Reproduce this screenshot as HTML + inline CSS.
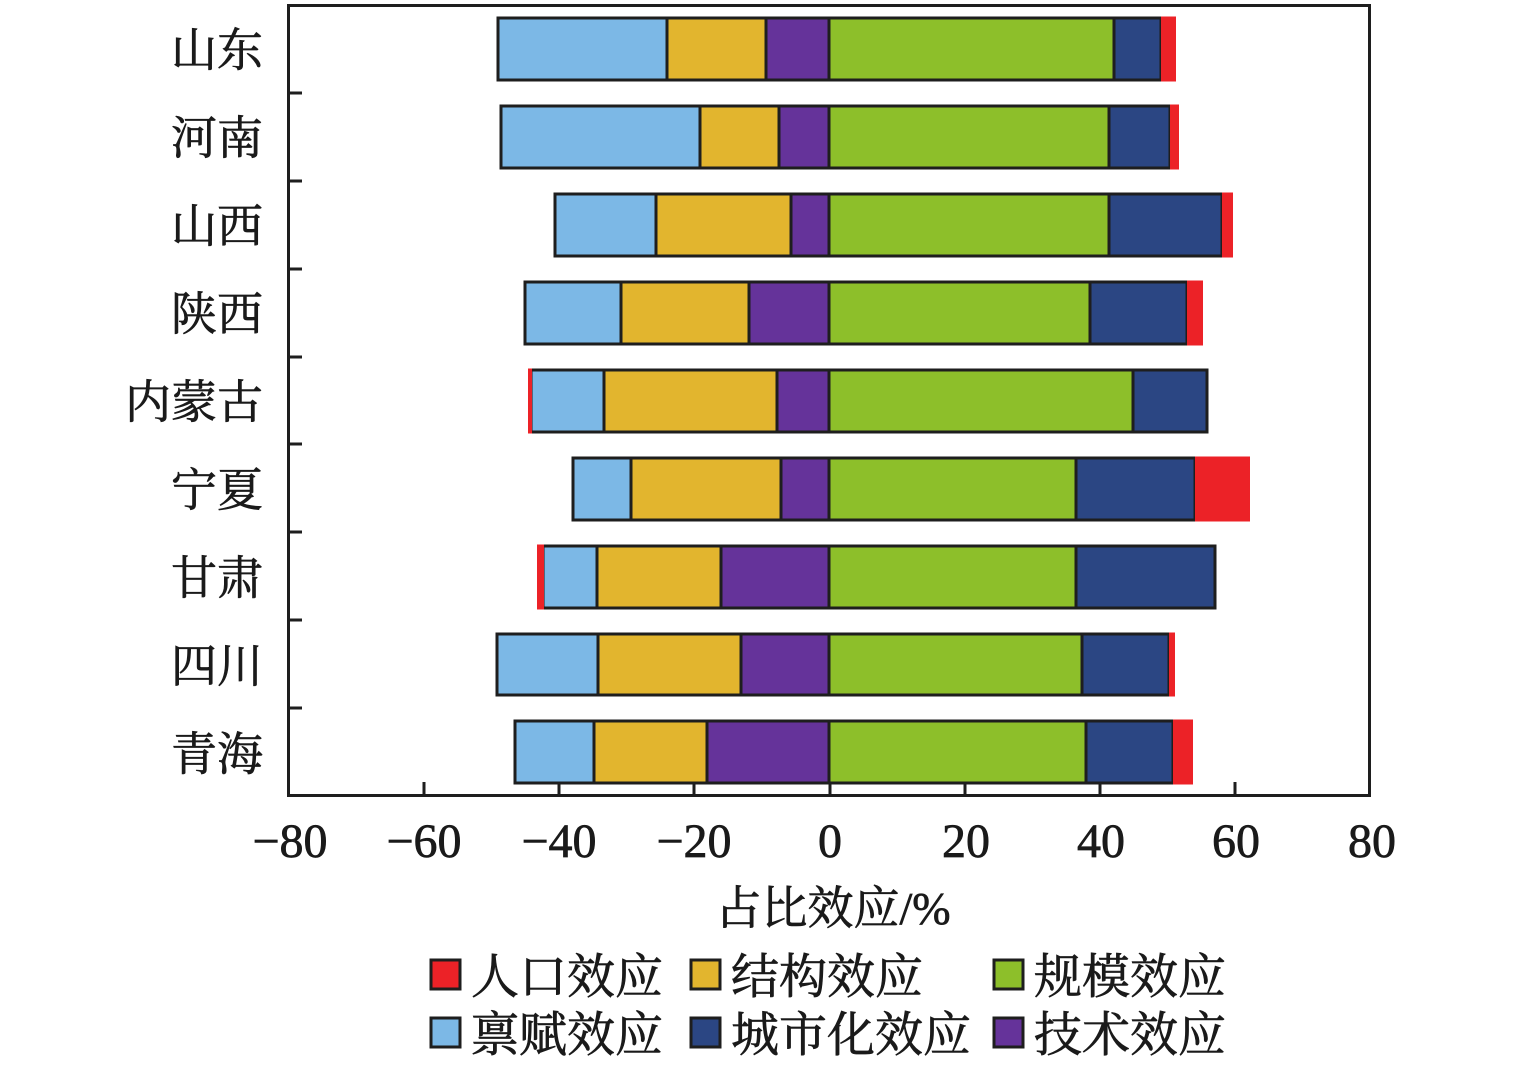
<!DOCTYPE html>
<html><head><meta charset="utf-8"><style>
html,body{margin:0;padding:0;background:#fff;}
svg text{font-family:"Liberation Serif","Noto Serif CJK SC",serif;fill:#1a1a1a;stroke:#1a1a1a;stroke-width:0.7;}
</style></head><body>
<svg width="1535" height="1061" viewBox="0 0 1535 1061" xmlns="http://www.w3.org/2000/svg">
<g stroke="#1e1e1e" stroke-width="3">
<rect x="498" y="18" width="169" height="62" fill="#7cb8e6"/><rect x="667" y="18" width="99" height="62" fill="#e2b52e"/><rect x="766" y="18" width="63" height="62" fill="#65339a"/><rect x="829" y="18" width="285" height="62" fill="#8dbf2a"/><rect x="1114" y="18" width="47" height="62" fill="#2b4683"/>
<rect x="501" y="106" width="199" height="62" fill="#7cb8e6"/><rect x="700" y="106" width="79" height="62" fill="#e2b52e"/><rect x="779" y="106" width="50" height="62" fill="#65339a"/><rect x="829" y="106" width="280" height="62" fill="#8dbf2a"/><rect x="1109" y="106" width="61" height="62" fill="#2b4683"/>
<rect x="555" y="194" width="101" height="62" fill="#7cb8e6"/><rect x="656" y="194" width="135" height="62" fill="#e2b52e"/><rect x="791" y="194" width="38" height="62" fill="#65339a"/><rect x="829" y="194" width="280" height="62" fill="#8dbf2a"/><rect x="1109" y="194" width="113" height="62" fill="#2b4683"/>
<rect x="525" y="282" width="96" height="62" fill="#7cb8e6"/><rect x="621" y="282" width="128" height="62" fill="#e2b52e"/><rect x="749" y="282" width="80" height="62" fill="#65339a"/><rect x="829" y="282" width="261" height="62" fill="#8dbf2a"/><rect x="1090" y="282" width="97" height="62" fill="#2b4683"/>
<rect x="531" y="370" width="73" height="62" fill="#7cb8e6"/><rect x="604" y="370" width="173" height="62" fill="#e2b52e"/><rect x="777" y="370" width="52" height="62" fill="#65339a"/><rect x="829" y="370" width="304" height="62" fill="#8dbf2a"/><rect x="1133" y="370" width="74" height="62" fill="#2b4683"/>
<rect x="573" y="458" width="58" height="62" fill="#7cb8e6"/><rect x="631" y="458" width="150" height="62" fill="#e2b52e"/><rect x="781" y="458" width="48" height="62" fill="#65339a"/><rect x="829" y="458" width="247" height="62" fill="#8dbf2a"/><rect x="1076" y="458" width="119" height="62" fill="#2b4683"/>
<rect x="543" y="546" width="54" height="62" fill="#7cb8e6"/><rect x="597" y="546" width="124" height="62" fill="#e2b52e"/><rect x="721" y="546" width="108" height="62" fill="#65339a"/><rect x="829" y="546" width="247" height="62" fill="#8dbf2a"/><rect x="1076" y="546" width="139" height="62" fill="#2b4683"/>
<rect x="497" y="634" width="101" height="61" fill="#7cb8e6"/><rect x="598" y="634" width="143" height="61" fill="#e2b52e"/><rect x="741" y="634" width="88" height="61" fill="#65339a"/><rect x="829" y="634" width="253" height="61" fill="#8dbf2a"/><rect x="1082" y="634" width="87" height="61" fill="#2b4683"/>
<rect x="515" y="721" width="79" height="62" fill="#7cb8e6"/><rect x="594" y="721" width="113" height="62" fill="#e2b52e"/><rect x="707" y="721" width="122" height="62" fill="#65339a"/><rect x="829" y="721" width="257" height="62" fill="#8dbf2a"/><rect x="1086" y="721" width="87" height="62" fill="#2b4683"/>
</g>
<g fill="#ec2227">
<rect x="1161" y="16.5" width="15" height="65"/>
<rect x="1170" y="104.5" width="9" height="65"/>
<rect x="1222" y="192.5" width="11" height="65"/>
<rect x="1187" y="280.5" width="16" height="65"/>
<rect x="528" y="368.5" width="4" height="65"/>
<rect x="1195" y="456.5" width="55" height="65"/>
<rect x="537" y="544.5" width="7" height="65"/>
<rect x="1169" y="632.5" width="6" height="64"/>
<rect x="1173" y="719.5" width="20" height="65"/>
</g>
<rect x="288.5" y="5.5" width="1081" height="790" fill="none" stroke="#1e1e1e" stroke-width="3"/>
<g stroke="#1e1e1e" stroke-width="3">
<line x1="288" y1="93" x2="302" y2="93"/><line x1="288" y1="181" x2="302" y2="181"/><line x1="288" y1="269" x2="302" y2="269"/><line x1="288" y1="357" x2="302" y2="357"/><line x1="288" y1="444" x2="302" y2="444"/><line x1="288" y1="532" x2="302" y2="532"/><line x1="288" y1="620" x2="302" y2="620"/><line x1="288" y1="708" x2="302" y2="708"/>
<line x1="424" y1="795" x2="424" y2="782"/><line x1="559" y1="795" x2="559" y2="782"/><line x1="694" y1="795" x2="694" y2="782"/><line x1="830" y1="795" x2="830" y2="782"/><line x1="965" y1="795" x2="965" y2="782"/><line x1="1100" y1="795" x2="1100" y2="782"/><line x1="1235" y1="795" x2="1235" y2="782"/>
</g>
<g font-size="46" text-anchor="end">
<text x="263" y="66">山东</text><text x="263" y="154">河南</text><text x="263" y="242">山西</text><text x="263" y="330">陕西</text><text x="263" y="418">内蒙古</text><text x="263" y="506">宁夏</text><text x="263" y="594">甘肃</text><text x="263" y="682">四川</text><text x="263" y="770">青海</text>
</g>
<g font-size="48" text-anchor="middle">
<text x="290" y="857">−80</text><text x="424" y="857">−60</text><text x="559" y="857">−40</text><text x="694" y="857">−20</text><text x="830" y="857">0</text><text x="966" y="857">20</text><text x="1101" y="857">40</text><text x="1236" y="857">60</text><text x="1372" y="857">80</text>
</g>
<text x="833" y="924" font-size="46" text-anchor="middle">占比效应/%</text>
<g stroke="#1e1e1e" stroke-width="3">
<rect x="431" y="960" width="29" height="29" fill="#ec2227"/>
<rect x="691" y="960" width="29" height="29" fill="#e2b52e"/>
<rect x="994" y="960" width="29" height="29" fill="#8dbf2a"/>
<rect x="431" y="1018" width="29" height="29" fill="#7cb8e6"/>
<rect x="691" y="1018" width="29" height="29" fill="#2b4683"/>
<rect x="994" y="1018" width="29" height="29" fill="#65339a"/>
</g>
<g font-size="48">
<text x="471" y="993">人口效应</text><text x="731" y="993">结构效应</text><text x="1034" y="993">规模效应</text>
<text x="471" y="1051">禀赋效应</text><text x="731" y="1051">城市化效应</text><text x="1034" y="1051">技术效应</text>
</g>
</svg>
</body></html>
